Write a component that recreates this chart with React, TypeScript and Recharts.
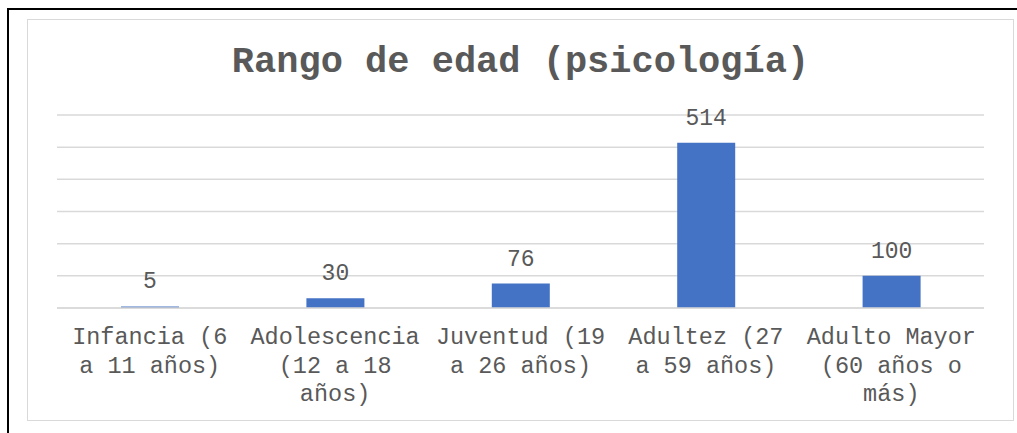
import { BarChart, Bar, XAxis, YAxis, CartesianGrid, LabelList } from 'recharts'

const categorias = [
  'Infancia (6 a 11 años)',
  'Adolescencia (12 a 18 años)',
  'Juventud (19 a 26 años)',
  'Adultez (27 a 59 años)',
  'Adulto Mayor (60 años o más)',
]
const pacientes = [5, 30, 76, 514, 100]
const ticksY = [0, 100, 200, 300, 400, 500, 600]

const data = categorias.map((rango, i) => ({ rango, valor: pacientes[i] }))

const FUENTE = '"Liberation Mono", "Courier New", monospace'
const GRIS = '#595959'

// corta la etiqueta en renglones de 12 caracteres como lo hace Excel
function partir(texto: string, max: number) {
  const lineas: string[] = []
  let actual = ''
  for (const palabra of texto.split(' ')) {
    const prueba = actual ? actual + ' ' + palabra : palabra
    if (prueba.length > max && actual) {
      lineas.push(actual)
      actual = palabra
    } else {
      actual = prueba
    }
  }
  if (actual) lineas.push(actual)
  return lineas
}

function TickCategoria({ x, y, payload }: any) {
  const lineas = partir(String(payload.value), 12)
  return (
    <text x={x} y={y} textAnchor="middle" fill={GRIS} fontFamily={FUENTE} fontSize={23.5}>
      {lineas.map((l, i) => (
        <tspan key={i} x={x} dy={i === 0 ? 28 : 28.5}>
          {l}
        </tspan>
      ))}
    </text>
  )
}

export default function App() {
  return (
    <div style={{ position: 'absolute', left: 0, top: 0, width: 1017, height: 433, background: '#fff', overflow: 'hidden' }}>
      <div style={{ position: 'absolute', left: 7, top: 8, width: 1030, height: 440, borderTop: '2px solid #000', borderLeft: '2px solid #000', boxSizing: 'border-box' }} />
      <div style={{ position: 'absolute', left: 27, top: 19, width: 987, height: 402, border: '1.5px solid #d9d9d9', boxSizing: 'border-box' }} />
      <div
        style={{
          position: 'absolute', left: 27, top: 40, width: 987, textAlign: 'center',
          fontFamily: FUENTE, fontWeight: 'bold', fontSize: 37, color: GRIS, lineHeight: '44px',
        }}
      >
        Rango de edad (psicología)
      </div>
      <div style={{ position: 'absolute', left: 0, top: 0 }}>
        <BarChart width={1017} height={433} data={data} margin={{ top: 115, right: 33, bottom: 25, left: 57 }}>
          <CartesianGrid vertical={false} stroke="#d9d9d9" strokeWidth={1.5} />
          <YAxis hide domain={[0, 600]} ticks={ticksY} />
          <XAxis
            dataKey="rango"
            height={100}
            axisLine={{ stroke: '#d9d9d9', strokeWidth: 1.5 }}
            tickLine={false}
            interval={0}
            tick={<TickCategoria />}
          />
          <Bar dataKey="valor" fill="#4472c4" barSize={58} isAnimationActive={false}>
            <LabelList dataKey="valor" position="top" offset={18} fill={GRIS} fontFamily={FUENTE} fontSize={23} />
          </Bar>
        </BarChart>
      </div>
    </div>
  )
}
